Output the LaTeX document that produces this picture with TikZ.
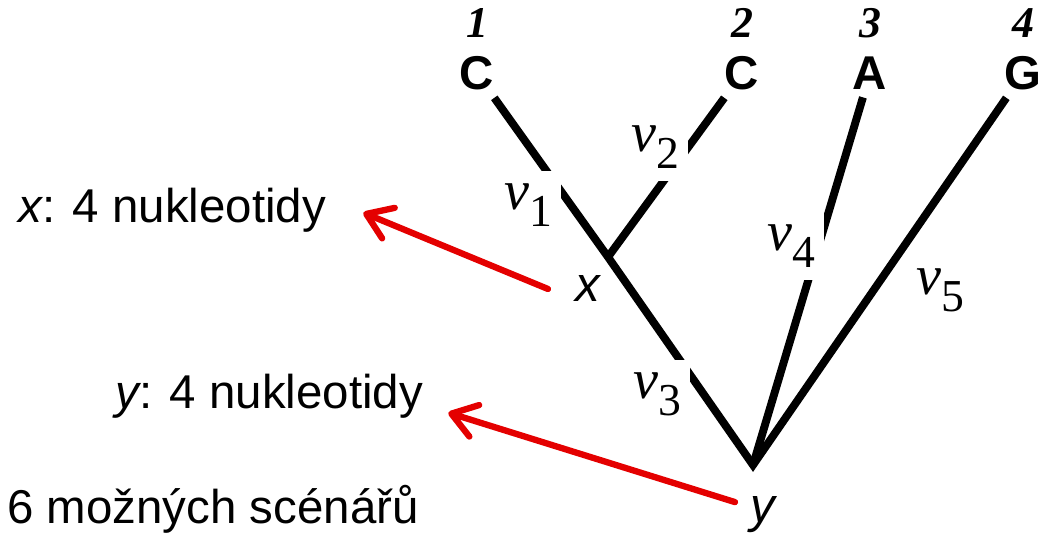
\documentclass[tikz,border=0pt]{standalone}
\usepackage{fontspec}
\setmainfont{Liberation Serif}
\setsansfont{Liberation Sans}
\usetikzlibrary{arrows.meta, positioning}
\definecolor{arrowred}{RGB}{228,0,0}
% branch length label: nu with a lowered index
\newcommand{\brlen}[1]{\textit{ν}\raisebox{-0.3em}{\fontsize{26}{26}\selectfont #1}}

\begin{document}
\begin{tikzpicture}[x=0.02cm, y=-0.02cm,
  branch/.style={line width=4.5pt},
  leaf/.style={font=\sffamily\bfseries\fontsize{27}{27}\selectfont, inner sep=4pt, anchor=base},
  num/.style={font=\bfseries\itshape\fontsize{25}{25}\selectfont, inner sep=0pt},
  blen/.style={fill=white, inner xsep=5pt, inner ysep=7pt, font=\fontsize{32}{32}\selectfont},
  lefttext/.style={font=\sffamily\fontsize{27}{27}\selectfont, inner sep=0pt, anchor=base west},
  ancestor/.style={font=\sffamily\itshape\fontsize{28}{28}\selectfont, inner sep=0pt, anchor=base west},
  redarrow/.style={draw=arrowred, line width=3.6pt, line cap=round,
                   -{Straight Barb[length=0.48cm, width=0.66cm, round]}}
]
  \useasboundingbox (0,0) rectangle (1047,536);
  % Leaves with their numbers
  \node[leaf] (l1) at (477,90) {C};
  \node[leaf] (l2) at (742,90) {C};
  \node[leaf] (l3) at (870,90) {A};
  \node[leaf] (l4) at (1023,90) {G};
  \node[num, above=0.24cm of l1] (n1) {1};
  \node[num, above=0.24cm of l2] (n2) {2};
  \node[num, above=0.24cm of l3] (n3) {3};
  \node[num, above=0.24cm of l4] (n4) {4};
  % Inner vertices
  \coordinate (nx) at (608,257);
  \coordinate (ny) at (753,465);
  % Branches
  \draw[branch] (l1) -- (nx) -- (ny) -- (l4);
  \draw[branch] (l2) -- (nx);
  \draw[branch] (l3) -- (ny);
  % Branch lengths
  \node[blen] (v1) at (528,205) {\brlen{1}};
  \node[blen] (v2) at (655,147) {\brlen{2}};
  \node[blen] (v3) at (657,394) {\brlen{3}};
  \node[blen] (v4) at (791,246) {\brlen{4}};
  \node[blen] (v5) at (940,290) {\brlen{5}};
  % Vertex names
  \node[ancestor] (xlab) at (575,302) {x};
  \node[ancestor] (ylab) at (750,522) {y};
  % Notes on the left
  \node[lefttext] (xtxt) at (18,223) {{\itshape x}: 4 nukleotidy};
  \node[lefttext] (ytxt) at (115,409) {{\itshape y}: 4 nukleotidy};
  \node[lefttext] (scen) at (7,523) {6 možných scénářů};
  % Red arrows
  \draw[redarrow] ([xshift=-0.54cm]xlab.west) -- ([xshift=0.74cm, yshift=-0.04cm]xtxt.east);
  \draw[redarrow] ([xshift=-0.3cm, yshift=0.24cm]ylab.west) -- ([xshift=0.5cm, yshift=-0.32cm]ytxt.east);
\end{tikzpicture}
\end{document}
